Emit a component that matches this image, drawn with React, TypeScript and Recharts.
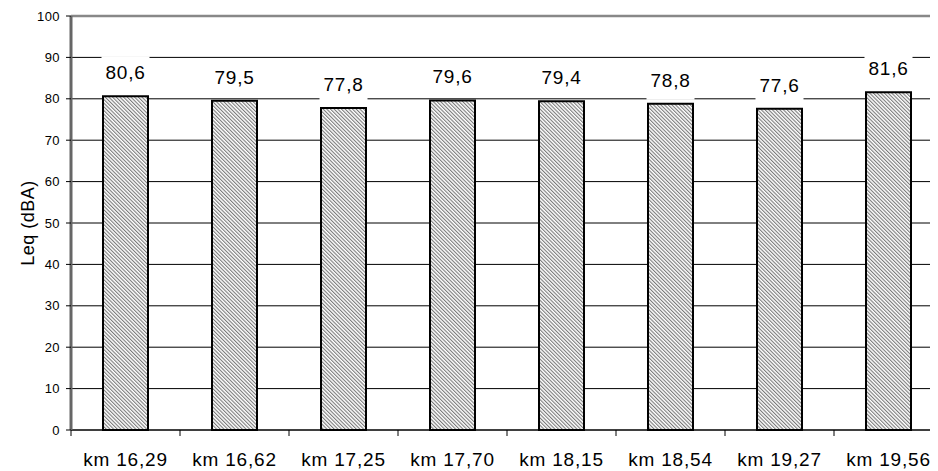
import React from 'react';
import { BarChart, Bar, XAxis, YAxis, CartesianGrid, LabelList, ReferenceLine } from 'recharts';

const categories = ['km 16,29', 'km 16,62', 'km 17,25', 'km 17,70', 'km 18,15', 'km 18,54', 'km 19,27', 'km 19,56'];
const leqValues = [80.6, 79.5, 77.8, 79.6, 79.4, 78.8, 77.6, 81.6];
const yTicks = [0, 10, 20, 30, 40, 50, 60, 70, 80, 90, 100];

const data = categories.map((c, i) => ({ name: c, leq: leqValues[i] }));

const FONT = '"Liberation Sans", Arial, sans-serif';

const DataLabel = (props: any) => {
  const { x, y, width, value } = props;
  const cx = Number(x) + Number(width) / 2;
  const top = Number(y);
  const txt = String(value).replace('.', ',');
  return (
    <g>
      <rect x={cx - 24} y={top - 40} width={48} height={36} fill="#ffffff" />
      <text x={cx} y={top - 17} textAnchor="middle" fontFamily={FONT} fontSize={19} letterSpacing={0.8} fill="#000">
        {txt}
      </text>
    </g>
  );
};

const XTick = (props: any) => {
  const { x, y, payload, index } = props;
  const off = payload && typeof payload.offset === 'number' ? payload.offset : 0;
  return (
    <g>
      {off > 0 && index === 0 && <line x1={x - off} x2={x - off} y1={y} y2={y + 6} stroke="#000" strokeWidth={1} />}
      {off > 0 && <line x1={x + off} x2={x + off} y1={y} y2={y + 6} stroke="#000" strokeWidth={1} />}
      <text x={x} y={y + 36} textAnchor="middle" fontFamily={FONT} fontSize={19} letterSpacing={0.8} fill="#000">
        {payload.value}
      </text>
    </g>
  );
};

const YLabel = (props: any) => {
  const { viewBox } = props;
  const cy = viewBox.y + viewBox.height / 2;
  const cx = 20;
  return (
    <text
      x={cx}
      y={cy}
      transform={`rotate(-90, ${cx}, ${cy})`}
      textAnchor="middle"
      dominantBaseline="central"
      fontFamily={FONT}
      fontSize={18}
      letterSpacing={0.5}
      fill="#000"
    >
      Leq (dBA)
    </text>
  );
};

export default function App() {
  return (
    <div style={{ width: 930, overflow: 'hidden' }}>
      <BarChart
        width={940}
        height={463}
        data={data}
        margin={{ top: 8, right: 5, left: 0, bottom: 11 }}
      >
        <defs>
          <pattern id="hatch" patternUnits="userSpaceOnUse" width={2.6} height={2.6} patternTransform="rotate(-45)">
            <rect x={0} y={0} width={2.6} height={2.6} fill="#ffffff" />
            <rect x={0} y={0} width={1.1} height={2.6} fill="#7a7a7a" />
          </pattern>
        </defs>
        <CartesianGrid vertical={false} stroke="#000" strokeWidth={1} />
        <XAxis
          dataKey="name"
          height={30}
          axisLine={{ stroke: '#000', strokeWidth: 1 }}
          tickLine={false}
          tickMargin={0}
          tickSize={0}
          tick={<XTick />}
          interval={0}
        />
        <YAxis
          width={63}
          domain={[0, 100]}
          ticks={yTicks}
          interval={0}
          axisLine={{ stroke: '#666', strokeWidth: 3 }}
          tickLine={{ stroke: '#000' }}
          tickSize={5}
          tickMargin={6}
          tick={{ fontFamily: FONT, fontSize: 13, fill: '#000', letterSpacing: 0.4 }}
          label={<YLabel />}
        />
        <ReferenceLine y={100} stroke="#888" strokeWidth={2.5} />
        <Bar dataKey="leq" barSize={45} fill="url(#hatch)" stroke="#000" strokeWidth={2} isAnimationActive={false}>
          <LabelList dataKey="leq" content={DataLabel} />
        </Bar>
      </BarChart>
    </div>
  );
}
